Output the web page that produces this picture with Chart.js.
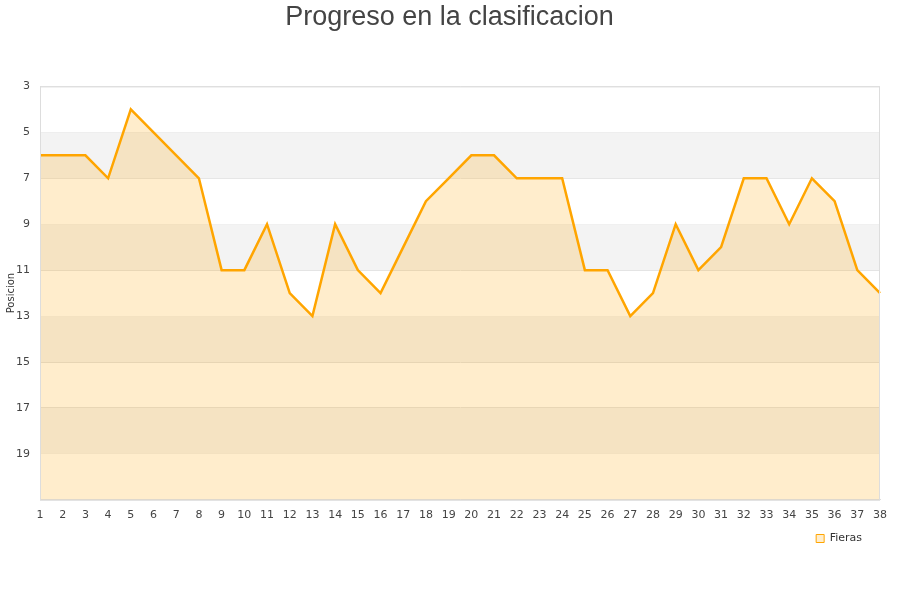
<!DOCTYPE html>
<html>
<head>
<meta charset="utf-8">
<script src="https://cdn.jsdelivr.net/npm/chart.js@4/dist/chart.umd.min.js"></script>
<style>
html,body{margin:0;padding:0;background:#fff;}
#wrap{width:900px;height:600px;}
</style>
</head>
<body>
<div id="wrap"><canvas id="c" width="900" height="600"></canvas></div>
<script>
const jornadas = ['1','2','3','4','5','6','7','8','9','10','11','12','13','14','15','16','17','18','19','20','21','22','23','24','25','26','27','28','29','30','31','32','33','34','35','36','37','38'];
const posiciones = [6,6,6,7,4,5,6,7,11,11,9,12,13,9,11,12,10,8,7,6,6,7,7,7,11,11,13,12,9,11,10,7,7,9,7,8,11,12];
const yTicks = [3,5,7,9,11,13,15,17,19];
const bandRanges = [[5,7],[9,11],[13,15],[17,19]];

const bandsPlugin = {
  id: 'bands',
  afterLayout(chart) {
    if (chart.legend) { chart.legend.left -= 8; chart.legend.right -= 8; }
    if (chart.titleBlock) { chart.titleBlock.left += 7; chart.titleBlock.right += 7; }
  },
  beforeDatasetsDraw(chart) {
    const {ctx, chartArea, scales} = chart;
    ctx.save();
    ctx.fillStyle = '#f3f3f3';
    bandRanges.forEach(([a,b]) => {
      const y1 = scales.y.getPixelForValue(a);
      const y2 = scales.y.getPixelForValue(b);
      ctx.fillRect(chartArea.left, Math.min(y1,y2), chartArea.right - chartArea.left, Math.abs(y2-y1));
    });
    ctx.restore();
  },
  afterDraw(chart) {
    const {ctx, chartArea} = chart;
    ctx.save();
    ctx.strokeStyle = '#dddddd';
    ctx.lineWidth = 1;
    ctx.strokeRect(chartArea.left + 0.5, chartArea.top + 0.5, chartArea.right - chartArea.left - 1, chartArea.bottom - chartArea.top);
    ctx.restore();
  }
};

new Chart(document.getElementById('c'), {
  type: 'line',
  data: {
    labels: jornadas,
    datasets: [{
      label: 'Fieras',
      data: posiciones,
      borderColor: '#ffa500',
      backgroundColor: 'rgba(255,165,0,0.2)',
      borderWidth: 2.5,
      pointRadius: 0,
      fill: { value: 21 },
      tension: 0
    }]
  },
  options: {
    responsive: false,
    animation: false,
    layout: { padding: { left: 5, right: 20, top: 0, bottom: 46 } },
    plugins: {
      title: {
        display: true,
        text: 'Progreso en la clasificacion',
        font: { family: 'Liberation Sans, Arial, sans-serif', size: 27, weight: 'normal' },
        color: '#444444',
        padding: { top: 1, bottom: 53 }
      },
      legend: {
        position: 'bottom',
        align: 'end',
        labels: {
          boxWidth: 8, boxHeight: 8,
          padding: 10,
          font: { family: 'DejaVu Sans, sans-serif', size: 11 },
          color: '#333',
          generateLabels(chart) {
            return [{ text: 'Fieras', fillStyle: 'rgba(255,165,0,0.2)', strokeStyle: '#ffa500', lineWidth: 1, datasetIndex: 0, hidden: false, fontColor: '#333' }];
          }
        }
      },
      tooltip: { enabled: false }
    },
    scales: {
      x: {
        offset: false,
        grid: { display: false },
        border: { color: '#dddddd' },
        ticks: { maxRotation: 0, autoSkip: false, color: '#444', font: { family: 'DejaVu Sans, sans-serif', size: 11 }, padding: 1 }
      },
      y: {
        reverse: true,
        min: 3, max: 21,
        afterBuildTicks(scale) { scale.ticks = yTicks.concat([21]).map(v => ({ value: v })); },
        afterFit(scale) { scale.width = 35; },
        grid: { color: '#e2e2e2', drawTicks: false },
        border: { color: '#dddddd' },
        title: { display: true, text: 'Posicion', color: '#333', font: { family: 'DejaVu Sans, sans-serif', size: 10 }, padding: 0 },
        ticks: {
          color: '#444',
          font: { family: 'DejaVu Sans, sans-serif', size: 11 },
          padding: 10,
          callback(v) { return yTicks.includes(v) ? String(v) : ''; }
        }
      }
    }
  },
  plugins: [bandsPlugin]
});
</script>
</body>
</html>
